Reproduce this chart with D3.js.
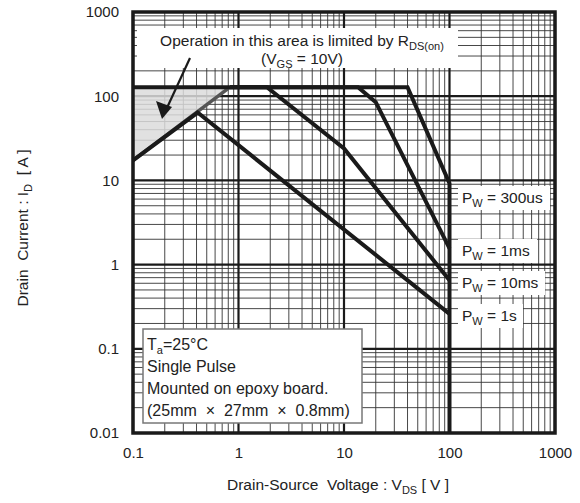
<!DOCTYPE html>
<html>
<head>
<meta charset="utf-8">
<script src="https://cdn.jsdelivr.net/npm/d3@7"></script>
<style>
  body { margin: 0; background: #fff; }
  text { font-family: "Liberation Sans", Arial, sans-serif; fill: #222; white-space: pre; }
</style>
</head>
<body>
<svg id="chart" width="580" height="503"></svg>
<script>
// SOA curves, [V_DS, I_D]
const rdsLimit = [[0.1, 17.3], [0.83, 128]];
const pw300us = [[0.1, 128], [40, 128], [100, 9.2], [100, 0.01]];
const pw1ms = [[0.83, 128], [13.6, 128], [20, 85], [100, 1.56]];
const pw10ms = [[0.83, 128], [1.86, 128], [10, 24], [100, 0.65]];
const pw1s = [[0.1, 17.3], [0.41, 64], [100, 0.26]];
const shaded = [[0.1, 128], [0.83, 128], [0.1, 17.3]];

const xTicks = [0.1, 1, 10, 100, 1000];
const yTicks = [0.01, 0.1, 1, 10, 100, 1000];
const xTickLabels = ["0.1", "1", "10", "100", "1000"];
const yTickLabels = ["0.01", "0.1", "1", "10", "100", "1000"];

// curve labels
const pwLabels = [
  { t: "300us", y: 203, w: 92 },
  { t: "1ms", y: 256, w: 79 },
  { t: "10ms", y: 288, w: 87 },
  { t: "1s", y: 321, w: 65 }
];

const svg = d3.select("#chart");
const x = d3.scaleLog().domain([0.1, 1000]).range([133, 555]);
const y = d3.scaleLog().domain([0.01, 1000]).range([433, 12]);

// minor grid
const minorX = [], minorY = [];
[0.1, 1, 10, 100].forEach(d => { for (let k = 2; k <= 9; k++) minorX.push(d * k); });
[0.01, 0.1, 1, 10, 100].forEach(d => { for (let k = 2; k <= 9; k++) minorY.push(d * k); });

const grid = svg.append("g");
grid.selectAll(".mx").data(minorX).enter().append("line")
  .attr("x1", d => x(d)).attr("x2", d => x(d))
  .attr("y1", y(0.01)).attr("y2", y(1000))
  .attr("stroke", "#333").attr("stroke-width", 0.9);
grid.selectAll(".my").data(minorY).enter().append("line")
  .attr("y1", d => y(d)).attr("y2", d => y(d))
  .attr("x1", x(0.1)).attr("x2", x(1000))
  .attr("stroke", "#333").attr("stroke-width", 0.9);
grid.selectAll(".Mx").data(xTicks).enter().append("line")
  .attr("x1", d => x(d)).attr("x2", d => x(d))
  .attr("y1", y(0.01)).attr("y2", y(1000))
  .attr("stroke", "#1a1a1a").attr("stroke-width", 2.2);
grid.selectAll(".My").data(yTicks).enter().append("line")
  .attr("y1", d => y(d)).attr("y2", d => y(d))
  .attr("x1", x(0.1)).attr("x2", x(1000))
  .attr("stroke", "#1a1a1a").attr("stroke-width", 2.2);

const line = d3.line().x(d => x(d[0])).y(d => y(d[1]));

// shaded RDS(on) region
svg.append("path").attr("d", line(shaded) + "Z")
  .attr("fill", "#dcdcdc").attr("fill-opacity", 0.85);

// annotation box at top
svg.append("rect").attr("x", 137).attr("y", 28).attr("width", 321).attr("height", 40).attr("fill", "#fff");
const ann = svg.append("text").attr("x", 302).attr("y", 46).attr("text-anchor", "middle").attr("font-size", 15.5);
ann.append("tspan").text("Operation in this area is limited by R");
ann.append("tspan").attr("font-size", 11).attr("dy", 4).text("DS(on)");
const ann2 = svg.append("text").attr("x", 302).attr("y", 64).attr("text-anchor", "middle").attr("font-size", 15.5);
ann2.append("tspan").text("(V");
ann2.append("tspan").attr("font-size", 11).attr("dy", 4).text("GS");
ann2.append("tspan").attr("dy", -4).text(" = 10V)");

// legend box
svg.append("rect").attr("x", 143).attr("y", 329).attr("width", 219).attr("height", 94)
  .attr("fill", "#fff").attr("stroke", "#777").attr("stroke-width", 1.5);

// pw label boxes
pwLabels.forEach(p => {
  svg.append("rect").attr("x", 458).attr("y", p.y - 17).attr("width", p.w).attr("height", 24).attr("fill", "#fff");
});

// curves
svg.append("path").attr("d", line(rdsLimit)).attr("fill", "none")
  .attr("stroke", "#555").attr("stroke-width", 3.5);
[pw300us, pw1ms, pw10ms, pw1s].forEach(c => {
  svg.append("path").attr("d", line(c)).attr("fill", "none")
    .attr("stroke", "#1a1a1a").attr("stroke-width", 4).attr("stroke-linejoin", "miter");
});

// frame
svg.append("rect").attr("x", x(0.1)).attr("y", y(1000))
  .attr("width", x(1000) - x(0.1)).attr("height", y(0.01) - y(1000))
  .attr("fill", "none").attr("stroke", "#1a1a1a").attr("stroke-width", 3.5);

// arrow
svg.append("line").attr("x1", 190).attr("y1", 58).attr("x2", 166).attr("y2", 110)
  .attr("stroke", "#1a1a1a").attr("stroke-width", 2.2);
svg.append("path").attr("d", "M162,119 L156,101 L172,107 Z").attr("fill", "#1a1a1a");

// pw labels
pwLabels.forEach(p => {
  const t = svg.append("text").attr("x", 462).attr("y", p.y).attr("font-size", 15.5);
  t.append("tspan").text("P");
  t.append("tspan").attr("font-size", 11).attr("dy", 4).text("W");
  t.append("tspan").attr("dy", -4).text(" = " + p.t);
});

// legend text
const lg = svg.append("g").attr("font-size", 16);
const l1 = lg.append("text").attr("x", 147).attr("y", 350);
l1.append("tspan").text("T");
l1.append("tspan").attr("font-size", 11).attr("dy", 4).text("a");
l1.append("tspan").attr("dy", -4).text("=25°C");
lg.append("text").attr("x", 147).attr("y", 372).text("Single Pulse");
lg.append("text").attr("x", 147).attr("y", 394).text("Mounted on epoxy board.");
lg.append("text").attr("x", 147).attr("y", 416).text("(25mm  ×  27mm  ×  0.8mm)");

// axes tick labels
svg.append("g").attr("transform", "translate(0,433)")
  .call(d3.axisBottom(x).tickValues(xTicks).tickFormat((d, i) => xTickLabels[i]).tickSize(0).tickPadding(14))
  .call(g => g.select(".domain").remove())
  .selectAll("text").attr("font-size", 15).attr("font-family", "Liberation Sans, Arial, sans-serif").attr("fill", "#222");
svg.append("g").attr("transform", "translate(133,0)")
  .call(d3.axisLeft(y).tickValues(yTicks).tickFormat((d, i) => yTickLabels[i]).tickSize(0).tickPadding(14))
  .call(g => g.select(".domain").remove())
  .selectAll("text").attr("font-size", 15).attr("font-family", "Liberation Sans, Arial, sans-serif").attr("fill", "#222");

// axis titles
const xt = svg.append("text").attr("x", 338).attr("y", 490).attr("text-anchor", "middle").attr("font-size", 15.5);
xt.append("tspan").text("Drain-Source  Voltage : V");
xt.append("tspan").attr("font-size", 11).attr("dy", 4).text("DS");
xt.append("tspan").attr("dy", -4).text(" [ V ]");

const yt = svg.append("text").attr("transform", "translate(28,228) rotate(-90)")
  .attr("text-anchor", "middle").attr("font-size", 15.5);
yt.append("tspan").text("Drain  Current : I");
yt.append("tspan").attr("font-size", 11).attr("dy", 4).text("D");
yt.append("tspan").attr("dy", -4).text("  [ A ]");
</script>
</body>
</html>
